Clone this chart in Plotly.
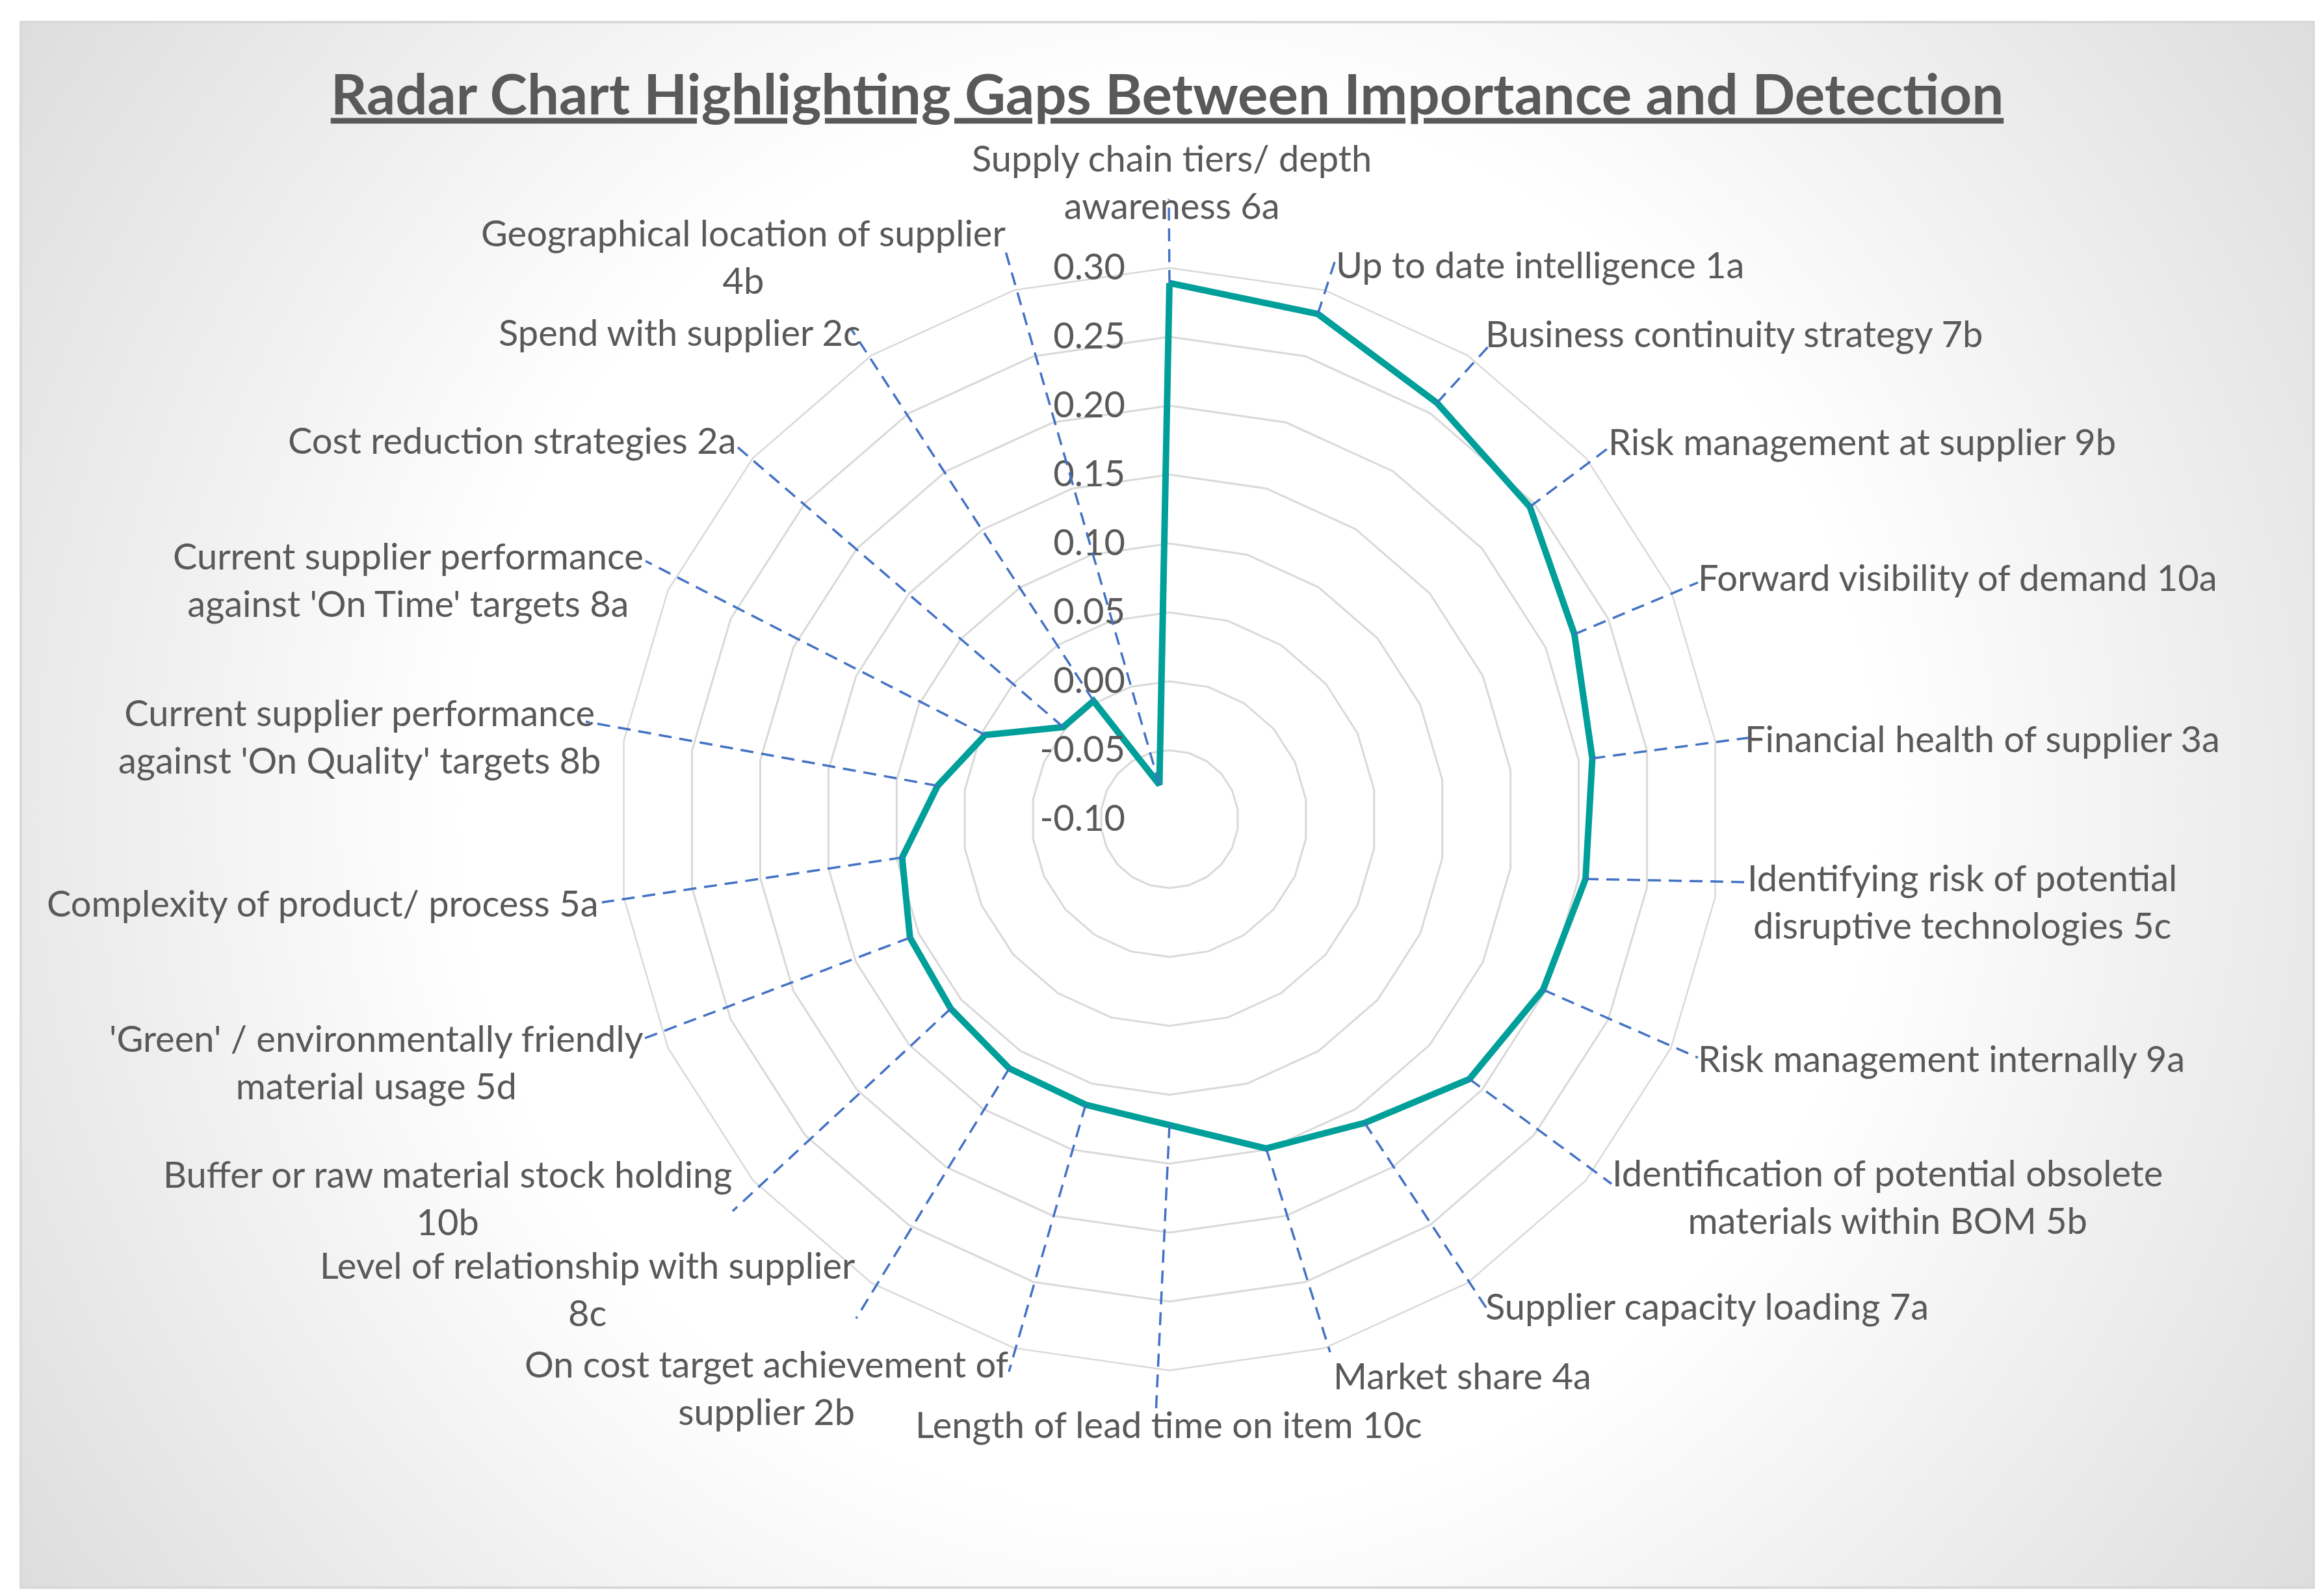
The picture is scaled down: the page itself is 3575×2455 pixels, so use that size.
import base64
import math
import plotly.graph_objects as go

W, H = 3575, 2455

# ---------------- data ----------------
categories = [
    "Supply chain tiers/ depth awareness 6a",
    "Up to date intelligence 1a",
    "Business continuity strategy 7b",
    "Risk management at supplier 9b",
    "Forward visibility of demand 10a",
    "Financial health of supplier 3a",
    "Identifying risk of potential disruptive technologies 5c",
    "Risk management internally 9a",
    "Identification of potential obsolete materials within BOM 5b",
    "Supplier capacity loading 7a",
    "Market share 4a",
    "Length of lead time on item 10c",
    "On cost target achievement of supplier 2b",
    "Level of relationship with supplier 8c",
    "Buffer or raw material stock holding 10b",
    "'Green' / environmentally friendly material usage 5d",
    "Complexity of product/ process 5a",
    "Current supplier performance against 'On Quality' targets 8b",
    "Current supplier performance against 'On Time' targets 8a",
    "Cost reduction strategies 2a",
    "Spend with supplier 2c",
    "Geographical location of supplier 4b",
]

label_text = [
    "Supply chain tiers/ depth<br>awareness 6a",
    "Up to date intelligence 1a",
    "Business continuity strategy 7b",
    "Risk management at supplier 9b",
    "Forward visibility of demand 10a",
    "Financial health of supplier 3a",
    "Identifying risk of potential<br>disruptive technologies 5c",
    "Risk management internally 9a",
    "Identification of potential obsolete<br>materials within BOM 5b",
    "Supplier capacity loading 7a",
    "Market share 4a",
    "Length of lead time on item 10c",
    "On cost target achievement of<br>supplier 2b",
    "Level of relationship with supplier<br>8c",
    "Buffer or raw material stock holding<br>10b",
    "'Green' / environmentally friendly<br>material usage 5d",
    "Complexity of product/ process 5a",
    "Current supplier performance<br>against 'On Quality' targets 8b",
    "Current supplier performance<br>against 'On Time' targets 8a",
    "Cost reduction strategies 2a",
    "Spend with supplier 2c",
    "Geographical location of supplier<br>4b",
]

gap_values = [
    0.289, 0.282, 0.259, 0.246, 0.223, 0.210, 0.205, 0.198, 0.188, 0.162, 0.149,
    0.122, 0.116, 0.115, 0.110, 0.107, 0.096, 0.070, 0.047, 0.002, 0.002, -0.074,
]

radial_tickvals = [-0.10, -0.05, 0.00, 0.05, 0.10, 0.15, 0.20, 0.25, 0.30]
radial_ticktext = ["-0.10", "-0.05", "0.00", "0.05", "0.10", "0.15", "0.20", "0.25", "0.30"]

title_text = "Radar Chart Highlighting Gaps Between Importance and Detection"

# ---------------- layout geometry (pixels) ----------------
CX, CY = 1791, 1252          # centre of the radar
R_MAIN = 848                  # radius of the 0.30 ring
R_WIDE = 1187                 # radius of the overlay used for leader lines
R_MIN, R_MAX = -0.10, 0.30
R_MAX_WIDE = R_MIN + (R_MAX - R_MIN) * R_WIDE / R_MAIN

# label boxes: (x px, y px, xanchor)
label_pos = [
    (1795, 271, "center"),
    (2045, 398, "left"),
    (2275, 504, "left"),
    (2464, 670, "left"),
    (2602, 880, "left"),
    (2674, 1127, "left"),
    (3010, 1378, "center"),
    (2602, 1619, "left"),
    (2895, 1832, "center"),
    (2275, 2001, "left"),
    (2041, 2107, "left"),
    (1790, 2182, "center"),
    (1171, 2126, "center"),
    (895, 1974, "center"),
    (680, 1834, "center"),
    (571, 1625, "center"),
    (915, 1380, "right"),
    (545, 1124, "center"),
    (620, 883, "center"),
    (1126, 668, "right"),
    (1318, 502, "right"),
    (1135, 386, "center"),
]

# where each leader line meets its label (px)
leader_end_px = [
    (1790, 298), (2048, 386), (2288, 518), (2477, 673), (2604, 888), (2681, 1127),
    (2681, 1349), (2604, 1619), (2471, 1813), (2283, 2011), (2038, 2072), (1770, 2168),
    (1544, 2102), (1309, 2020), (1119, 1855), (976, 1592), (918, 1380), (893, 1102),
    (985, 855), (1121, 675), (1302, 499), (1537, 372),
]

TEXT_COLOR = "#595959"
GRID_COLOR = "#d9d9d9"
LINE_COLOR = "#009f9a"
LEADER_COLOR = "#4472c4"
FONT = "Lato"
LABEL_SIZE = 56

n = len(categories)
step = 360.0 / n

fig = go.Figure()

# main series (categorical radar)
fig.add_trace(go.Scatterpolar(
    r=gap_values + [gap_values[0]],
    theta=categories + [categories[0]],
    mode="lines",
    line=dict(color=LINE_COLOR, width=10),
    subplot="polar",
    showlegend=False,
    hoverinfo="skip",
))

# leader lines (wide overlay, degrees)
for i in range(n):
    ex, ey = leader_end_px[i]
    dx, dy = ex - CX, CY - ey
    dist = math.hypot(dx, dy)
    r_end = R_MIN + dist / R_MAIN * (R_MAX - R_MIN)
    th_end = math.degrees(math.atan2(dx, dy)) % 360
    fig.add_trace(go.Scatterpolar(
        r=[gap_values[i], r_end],
        theta=[i * step, th_end],
        mode="lines",
        line=dict(color=LEADER_COLOR, width=3.5, dash="20px,12px"),
        subplot="polar2",
        showlegend=False,
        hoverinfo="skip",
    ))

# labels
annotations = []
for i in range(n):
    x, y, xa = label_pos[i]
    annotations.append(dict(
        x=x / W, y=1 - y / H, xref="paper", yref="paper",
        xanchor=xa, yanchor="middle", align="center",
        text=label_text[i], showarrow=False,
        font=dict(family=FONT, size=LABEL_SIZE, color=TEXT_COLOR),
    ))

# background: radial gradient with frame
svg = f"""<svg xmlns='http://www.w3.org/2000/svg' width='{W}' height='{H}' viewBox='0 0 {W} {H}'>
<defs><radialGradient id='g' gradientUnits='userSpaceOnUse' cx='1790' cy='1230' r='2170'>
<stop offset='0' stop-color='#ffffff'/><stop offset='0.5' stop-color='#ffffff'/>
<stop offset='1' stop-color='#dcdcdc'/></radialGradient></defs>
<rect x='0' y='0' width='{W}' height='{H}' fill='#ffffff'/>
<rect x='24' y='26' width='3527' height='2408' fill='url(#g)' stroke='#d9d9d9' stroke-width='4'/>
</svg>"""
bg_uri = "data:image/svg+xml;base64," + base64.b64encode(svg.encode()).decode()

fig.update_layout(
    width=W, height=H,
    margin=dict(l=0, r=0, t=0, b=0),
    paper_bgcolor="#ffffff",
    images=[dict(source=bg_uri, xref="paper", yref="paper", x=0, y=1,
                 sizex=1, sizey=1, sizing="stretch", layer="below",
                 xanchor="left", yanchor="top")],
    title=dict(
        text=title_text, x=0.5, xanchor="center", y=1 - 138 / H, yanchor="middle",
        font=dict(family=FONT, size=87, color=TEXT_COLOR, weight=700, lineposition="under"),
    ),
    annotations=annotations,
    polar=dict(
        domain=dict(x=[(CX - R_MAIN) / W, (CX + R_MAIN) / W],
                    y=[((H - CY) - R_MAIN) / H, ((H - CY) + R_MAIN) / H]),
        bgcolor="rgba(0,0,0,0)",
        gridshape="linear",
        angularaxis=dict(
            type="category", categoryarray=categories, direction="clockwise",
            rotation=90, showticklabels=False, showgrid=False, ticks="",
            showline=True, linecolor=GRID_COLOR, linewidth=2.5,
        ),
        radialaxis=dict(
            range=[R_MIN, R_MAX], tickvals=radial_tickvals, ticktext=radial_ticktext,
            showline=False, gridcolor=GRID_COLOR, gridwidth=2.5,
            side="counterclockwise", angle=90, tickangle=90,
            ticks="outside", ticklen=48, tickcolor="rgba(0,0,0,0)",
            tickfont=dict(family=FONT, size=LABEL_SIZE, color=TEXT_COLOR),
        ),
    ),
    polar2=dict(
        domain=dict(x=[(CX - R_WIDE) / W, (CX + R_WIDE) / W],
                    y=[((H - CY) - R_WIDE) / H, ((H - CY) + R_WIDE) / H]),
        bgcolor="rgba(0,0,0,0)",
        angularaxis=dict(type="linear", thetaunit="degrees", direction="clockwise",
                         rotation=90, visible=False),
        radialaxis=dict(range=[R_MIN, R_MAX_WIDE], visible=False),
    ),
)

fig.write_html("out.html")
